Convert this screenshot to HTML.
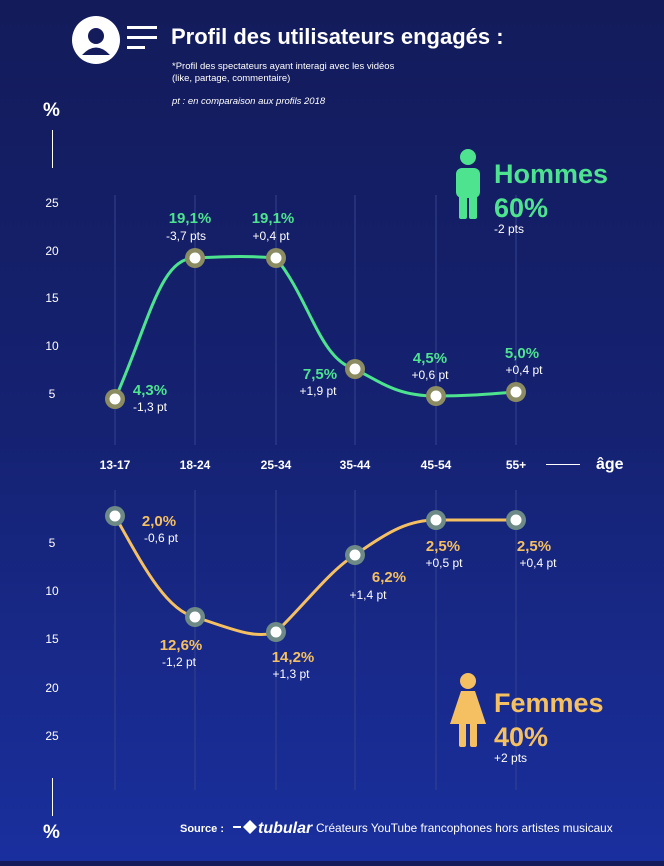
<!DOCTYPE html>
<html><head><meta charset="utf-8"><style>
html,body{margin:0;padding:0}
body{width:664px;height:861px;overflow:hidden;background:linear-gradient(180deg,#131b5a 0%,#152272 50%,#1a2f9e 100%);font-family:"Liberation Sans",sans-serif;}
</style></head><body>
<svg width="664" height="861" viewBox="0 0 664 861" xmlns="http://www.w3.org/2000/svg" font-family="Liberation Sans, sans-serif">
<circle cx="96" cy="40" r="24" fill="#fff"/>
<circle cx="96" cy="36" r="8" fill="#141c5c"/>
<path d="M82,55 Q96,40 110,55 Z" fill="#141c5c"/>
<rect x="127" y="26" width="30" height="3" fill="#fff"/>
<rect x="127" y="36" width="30" height="3" fill="#fff"/>
<rect x="127" y="46" width="18" height="3" fill="#fff"/>
<text x="171" y="44" fill="#fff" font-size="22" font-weight="bold">Profil des utilisateurs engagés :</text>
<text x="172" y="69" fill="#fff" font-size="9.5">*Profil des spectateurs ayant interagi avec les vidéos</text>
<text x="172" y="81" fill="#fff" font-size="9.5">(like, partage, commentaire)</text>
<text x="172" y="104" fill="#fff" font-size="9.5" font-style="italic">pt : en comparaison aux profils 2018</text>
<text x="43" y="116" fill="#fff" font-size="19" font-weight="bold">%</text>
<rect x="52" y="130" width="1" height="38" fill="#fff"/>
<g fill="#fff" font-size="12" text-anchor="middle">
<text x="52" y="207">25</text><text x="52" y="255">20</text><text x="52" y="302">15</text><text x="52" y="350">10</text><text x="52" y="398">5</text>
<text x="52" y="547">5</text><text x="52" y="595">10</text><text x="52" y="643">15</text><text x="52" y="692">20</text><text x="52" y="740">25</text>
</g>
<text x="43" y="838" fill="#fff" font-size="19" font-weight="bold">%</text>
<rect x="52" y="778" width="1" height="38" fill="#fff"/>
<g stroke="#34438f" stroke-width="1">
<line x1="115" y1="195" x2="115" y2="445"/><line x1="195" y1="195" x2="195" y2="445"/><line x1="276" y1="195" x2="276" y2="445"/><line x1="355" y1="195" x2="355" y2="445"/><line x1="436" y1="195" x2="436" y2="445"/><line x1="516" y1="195" x2="516" y2="445"/>
<line x1="115" y1="490" x2="115" y2="790"/><line x1="195" y1="490" x2="195" y2="790"/><line x1="276" y1="490" x2="276" y2="790"/><line x1="355" y1="490" x2="355" y2="790"/><line x1="436" y1="490" x2="436" y2="790"/><line x1="516" y1="490" x2="516" y2="790"/>
</g>
<g fill="#fff" font-size="12" font-weight="bold" text-anchor="middle">
<text x="115" y="469">13-17</text><text x="195" y="469">18-24</text><text x="276" y="469">25-34</text><text x="355" y="469">35-44</text><text x="436" y="469">45-54</text><text x="516" y="469">55+</text>
</g>
<rect x="546" y="464" width="34" height="1" fill="#fff"/>
<text x="596" y="469" fill="#fff" font-size="16" font-weight="bold">âge</text>
<path d="M115,399 C150,320 160,258 195,258 C235,256 250,256 276,258 C310,300 320,360 355,369 C385,385 400,396 436,396 C470,396 490,394 516,392" fill="none" stroke="#4de38f" stroke-width="3"/>
<g fill="#8c8c63"><circle cx="115" cy="399" r="10"/><circle cx="195" cy="258" r="10"/><circle cx="276" cy="258" r="10"/><circle cx="355" cy="369" r="10"/><circle cx="436" cy="396" r="10"/><circle cx="516" cy="392" r="10"/></g>
<g fill="#fff"><circle cx="115" cy="399" r="5.5"/><circle cx="195" cy="258" r="5.5"/><circle cx="276" cy="258" r="5.5"/><circle cx="355" cy="369" r="5.5"/><circle cx="436" cy="396" r="5.5"/><circle cx="516" cy="392" r="5.5"/></g>
<g font-size="15" font-weight="bold" fill="#4de38f" text-anchor="middle">
<text x="190" y="223">19,1%</text><text x="273" y="223">19,1%</text><text x="150" y="395">4,3%</text><text x="320" y="379">7,5%</text><text x="430" y="363">4,5%</text><text x="522" y="358">5,0%</text>
</g>
<g font-size="12" fill="#fff" text-anchor="middle">
<text x="186" y="240">-3,7 pts</text><text x="271" y="240">+0,4 pt</text><text x="150" y="411">-1,3 pt</text><text x="318" y="395">+1,9 pt</text><text x="430" y="379">+0,6 pt</text><text x="524" y="374">+0,4 pt</text>
</g>
<g fill="#4de38f">
<circle cx="468" cy="157" r="8"/>
<rect x="456" y="168" width="24" height="30" rx="6"/>
<rect x="459" y="186" width="8" height="33" rx="2"/><rect x="469" y="186" width="8" height="33" rx="2"/>
</g>
<text x="494" y="183" fill="#4de38f" font-size="27" font-weight="bold">Hommes</text>
<text x="494" y="217" fill="#4de38f" font-size="27" font-weight="bold">60%</text>
<text x="494" y="233" fill="#fff" font-size="12">-2 pts</text>
<path d="M115,516 C140,560 165,610 195,617 C230,628 255,640 276,632 C300,610 330,570 355,555 C390,530 410,520 436,520 L516,520" fill="none" stroke="#f5c062" stroke-width="3"/>
<g fill="#6e8a86"><circle cx="115" cy="516" r="10"/><circle cx="195" cy="617" r="10"/><circle cx="276" cy="632" r="10"/><circle cx="355" cy="555" r="10"/><circle cx="436" cy="520" r="10"/><circle cx="516" cy="520" r="10"/></g>
<g fill="#fff"><circle cx="115" cy="516" r="5.5"/><circle cx="195" cy="617" r="5.5"/><circle cx="276" cy="632" r="5.5"/><circle cx="355" cy="555" r="5.5"/><circle cx="436" cy="520" r="5.5"/><circle cx="516" cy="520" r="5.5"/></g>
<g font-size="15" font-weight="bold" fill="#f5c062" text-anchor="middle">
<text x="159" y="526">2,0%</text><text x="181" y="650">12,6%</text><text x="293" y="662">14,2%</text><text x="389" y="582">6,2%</text><text x="443" y="551">2,5%</text><text x="534" y="551">2,5%</text>
</g>
<g font-size="12" fill="#fff" text-anchor="middle">
<text x="161" y="542">-0,6 pt</text><text x="179" y="666">-1,2 pt</text><text x="291" y="678">+1,3 pt</text><text x="368" y="599">+1,4 pt</text><text x="444" y="567">+0,5 pt</text><text x="538" y="567">+0,4 pt</text>
</g>
<g fill="#f5c062">
<circle cx="468" cy="681" r="8"/>
<path d="M461,691 L475,691 L486,724 L450,724 Z"/>
<rect x="459" y="722" width="7" height="25" rx="2"/><rect x="470" y="722" width="7" height="25" rx="2"/>
</g>
<text x="494" y="712" fill="#f5c062" font-size="27" font-weight="bold">Femmes</text>
<text x="494" y="746" fill="#f5c062" font-size="27" font-weight="bold">40%</text>
<text x="494" y="762" fill="#fff" font-size="12">+2 pts</text>
<text x="180" y="832" fill="#fff" font-size="11" font-weight="bold">Source :</text>
<rect x="233" y="826" width="8" height="2" fill="#fff"/>
<path d="M243,827 L250,820 L257,827 L250,834 Z" fill="#fff"/>
<text x="258" y="833" fill="#fff" font-size="16" font-weight="bold" font-style="italic">tubular</text>
<text x="316" y="832" fill="#fff" font-size="11.8">Créateurs YouTube francophones hors artistes musicaux</text>
</svg>
</body></html>
